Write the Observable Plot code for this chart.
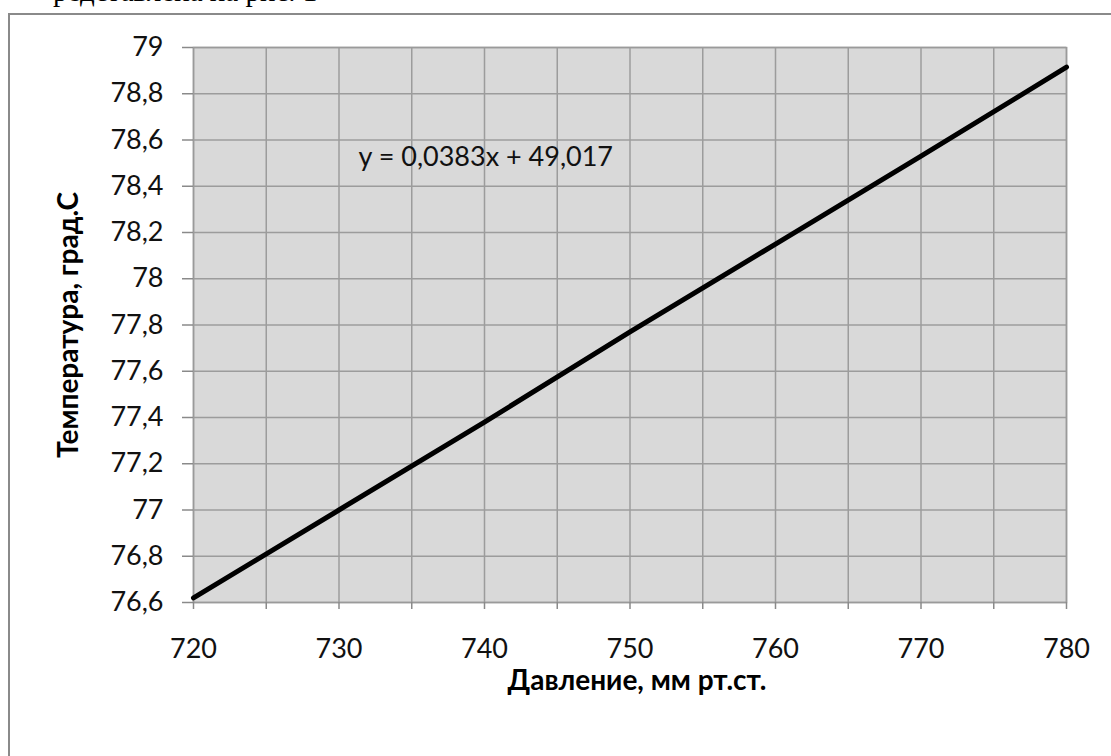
<!DOCTYPE html>
<html>
<head>
<meta charset="utf-8">
<script src="https://cdn.jsdelivr.net/npm/d3@7"></script>
<script src="https://cdn.jsdelivr.net/npm/@observablehq/plot@0.6"></script>
<style>
  html, body { margin: 0; padding: 0; background: #fff; overflow: hidden; }
  #wrap { position: relative; width: 1111px; height: 756px; overflow: hidden; }
  #border { position: absolute; left: 8px; top: 12.5px; width: 1200px; height: 900px;
            border-left: 2.5px solid #8a8a8a; border-top: 2.5px solid #8a8a8a; }
  #toptext { position: absolute; left: 53px; top: -23.5px; font-family: "Liberation Serif", serif;
             font-size: 29px; line-height: 28px; white-space: nowrap; color: #000; }
  #chart { position: absolute; left: 0; top: 0; }
</style>
</head>
<body>
<div id="wrap">
  <div id="toptext">редставлена на рис. 1</div>
  <div id="border"></div>
  <div id="chart"></div>
</div>
<script>
// Data
const pressure = [720, 730, 740, 750, 760, 770, 780];
const temperature = [76.62, 77.00, 77.38, 77.77, 78.15, 78.53, 78.915];
const xTickLabels = [720, 730, 740, 750, 760, 770, 780];
const xGridValues = [720, 725, 730, 735, 740, 745, 750, 755, 760, 765, 770, 775, 780];
const yTickValues = [76.6, 76.8, 77, 77.2, 77.4, 77.6, 77.8, 78, 78.2, 78.4, 78.6, 78.8, 79];
const equationText = ["y = 0,0383x + 49,017"];
const xTitle = ["Давление, мм рт.ст."];
const yTitle = ["Температура, град.С"];

const rows = pressure.map((p, i) => ({p, t: temperature[i]}));
const fmt = d => String(+d.toFixed(1)).replace(".", ",");

const chart = Plot.plot({
  width: 1111,
  height: 756,
  marginLeft: 193,
  marginRight: 45,
  marginTop: 47,
  marginBottom: 154,
  x: {domain: [720, 780], label: null},
  y: {domain: [76.6, 79], label: null},
  style: {fontFamily: "Lato, sans-serif", fontSize: "27px", color: "#000", background: "transparent", overflow: "visible"},
  marks: [
    Plot.frame({fill: "#d9d9d9", stroke: null}),
    Plot.gridX(xGridValues, {stroke: "#9c9c9c", strokeOpacity: 1, strokeWidth: 1.5}),
    Plot.gridY(yTickValues, {stroke: "#9c9c9c", strokeOpacity: 1, strokeWidth: 1.5}),
    Plot.frame({stroke: "#9a9a9a", strokeWidth: 1.5}),
    Plot.axisX(xGridValues, {tickSize: 7, text: null, stroke: "#8a8a8a", strokeWidth: 1.5, label: null}),
    Plot.axisX(xTickLabels, {tickSize: 0, tickPadding: 36, tickFormat: d => String(d), fontSize: 27, fill: "#111", label: null}),
    Plot.axisY(yTickValues, {tickSize: 11, tickPadding: 19, tickFormat: fmt, fontSize: 27, fill: "#111", stroke: "#8a8a8a", strokeWidth: 1.5, label: null}),
    Plot.line(rows, {x: "p", y: "t", stroke: "#000", strokeWidth: 5}),
    Plot.text(equationText, {frameAnchor: "top-left", dx: 165, dy: 110, textAnchor: "start", lineAnchor: "middle", fontSize: 27, fill: "#111"}),
    Plot.text(xTitle, {frameAnchor: "bottom", dx: 7, dy: 79, textAnchor: "middle", lineAnchor: "middle", fontSize: 28, fontWeight: "bold", fill: "#000"}),
    Plot.text(yTitle, {frameAnchor: "left", dx: -124, rotate: -90, textAnchor: "middle", lineAnchor: "middle", fontSize: 28, fontWeight: "bold", fill: "#000"})
  ]
});
document.getElementById("chart").appendChild(chart);
</script>
</body>
</html>
